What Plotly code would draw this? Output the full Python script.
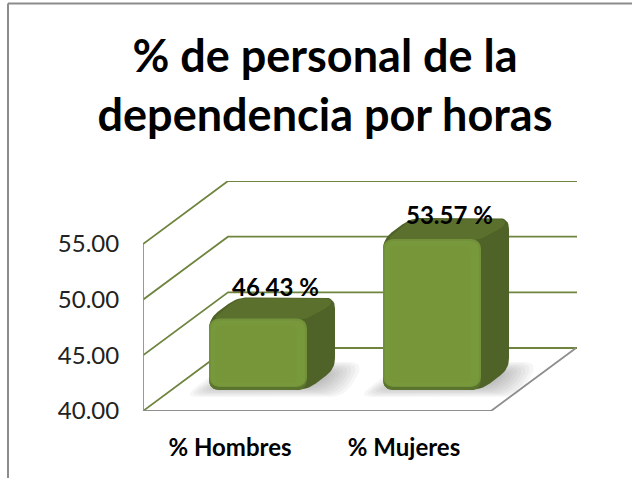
import plotly.graph_objects as go

categories = ["% Hombres", "% Mujeres"]
values = [46.43, 53.57]
value_labels = ["46.43 %", "53.57 %"]
label_lift = [32, 24]
y_ticks = [40, 45, 50, 55]
y_tick_labels = ["40.00", "45.00", "50.00", "55.00"]
title = "% de personal de la<br>dependencia por horas"

W, H = 632, 478
L, R, T, B = 143, 577, 181, 411
SY = (411 - 244) / 15          # px per value unit
SX = 174                       # px per category
WALL_DX, WALL_DY = 85, 63      # oblique offset of back wall
BAR_DX, BAR_DY = 28, 21        # bar plane offset from the front of the floor
SIDE_DX, SIDE_DY = 28, 21      # bar depth
BAR_W = 98 / SX
FONT = "Lato, Carlito, Calibri, sans-serif"

x0 = -0.5
x_range = [x0, x0 + (R - L) / SX]
y_range = [40, 40 + (B - T) / SY]
x_range2 = [x_range[0] - BAR_DX / SX, x_range[1] - BAR_DX / SX]
y_range2 = [y_range[0] - BAR_DY / SY, y_range[1] - BAR_DY / SY]


def rounded(points, r):
    """points in px-scaled plane -> smooth closed path"""
    out = []
    n = len(points)
    for k in range(n):
        p0, p1, p2 = points[k - 1], points[k], points[(k + 1) % n]
        def toward(a, b, d):
            dist = ((a[0] - b[0]) ** 2 + (a[1] - b[1]) ** 2) ** 0.5
            t = min(d / dist, 0.5)
            return (b[0] + (a[0] - b[0]) * t, b[1] + (a[1] - b[1]) * t)
        a, c = toward(p0, p1, r), toward(p2, p1, r)
        for s in range(9):
            t = s / 8
            out.append(((1 - t) ** 2 * a[0] + 2 * t * (1 - t) * p1[0] + t ** 2 * c[0],
                        (1 - t) ** 2 * a[1] + 2 * t * (1 - t) * p1[1] + t ** 2 * c[1]))
    out.append(out[0])
    return [p[0] / SX for p in out], [p[1] / SY for p in out]


def poly(points, r, color, axes="base", opacity=1):
    xs, ys = rounded(points, r)
    if axes == "base":
        xs = [a + BAR_DX / SX for a in xs]
        ys = [b + BAR_DY / SY for b in ys]
    return go.Scatter(x=xs, y=ys, mode="lines", fill="toself", fillcolor=color,
                      line=dict(width=0), opacity=opacity, hoverinfo="skip",
                      showlegend=False, xaxis="x" if axes == "base" else "x2",
                      yaxis="y" if axes == "base" else "y2")


def line(xs, ys, color, width):
    return go.Scatter(x=xs, y=ys, mode="lines", line=dict(color=color, width=width),
                      hoverinfo="skip", showlegend=False)


fig = go.Figure()
GRID = "#6f853f"
FLOOR = "#8e8e8e"
wx, wy = WALL_DX / SX, WALL_DY / SY
xL, xF = x_range[0], x_range[0] + 2

# back wall and side wall grid
for v in y_ticks:
    fig.add_trace(line([xL, xL + wx, x_range[1]], [v, v + wy, v + wy], GRID, 1.8))
# floor edge and front axis
fig.add_trace(line([xL, xL, xF, xF + wx], [55, 40, 40, 40 + wy], FLOOR, 1.8))

# floor shadows
for i, v in enumerate(values):
    lx = (i - BAR_W / 2) * SX
    rx = (i + BAR_W / 2) * SX
    by = 40 * SY
    for inset in (0, 3, 6, 9, 12, 15, 18, 21, 24):
        pts = [(lx - 26 + inset * 1.3, by - 7 + inset * 0.45),
               (rx + 38 - inset * 1.3, by - 7 + inset * 0.45),
               (rx + 58 - inset * 1.3, by + 28 - inset * 0.45),
               (lx + 20 + inset * 1.3, by + 28 - inset * 0.45)]
        fig.add_trace(poly(pts, 16, "#777777", opacity=0.065))

# bar bodies behind the front face
for i, v in enumerate(values):
    lx, rx = (i - BAR_W / 2) * SX, (i + BAR_W / 2) * SX
    by, ty = 40 * SY, v * SY
    sil = [(lx, by), (lx, ty), (lx + SIDE_DX, ty + SIDE_DY), (rx + SIDE_DX, ty + SIDE_DY),
           (rx + SIDE_DX, by + SIDE_DY), (rx, by)]
    fig.add_trace(poly(sil, 11, "#4f6227"))
    top = [(lx + 3, ty - 1), (lx + SIDE_DX + 1, ty + SIDE_DY - 1), (rx + SIDE_DX - 4, ty + SIDE_DY - 1),
           (rx + SIDE_DX - 4, ty + SIDE_DY - 8), (rx - 1, ty - 1)]
    fig.add_trace(poly(top, 8, "#5b702d"))
    outer = [(lx, by), (lx, ty), (rx, ty), (rx, by)]
    fig.add_trace(poly(outer, 11, "#5a742d"))

# front face bars, on axes shifted to the bars' plane
fig.add_trace(go.Bar(x=[0, 1], y=[v - (40 + 3 / SY) for v in values], base=40 + 3 / SY,
                     width=BAR_W, marker=dict(color="#72913a", cornerradius=10, line=dict(width=0)),
                     xaxis="x2", yaxis="y2", hoverinfo="skip", showlegend=False))
for i, v in enumerate(values):
    lx, rx = (i - BAR_W / 2) * SX, (i + BAR_W / 2) * SX
    by, ty = 40 * SY, v * SY
    fig.add_trace(poly([(lx + 2, by + 4), (lx + 2, ty - 2), (rx - 2, ty - 2), (rx - 2, by + 4)], 9,
                       "#78983c", axes="over"))
    fig.add_trace(poly([(lx + 6, by + 7), (lx + 6, ty - 7), (rx - 10, ty - 7), (rx - 10, by + 7)], 8,
                       "#779639", axes="over"))
    fig.add_annotation(x=i, y=v, xref="x2", yref="y2", text=f"<b>{value_labels[i]}</b>", showarrow=False,
                       xshift=17, yshift=label_lift[i], font=dict(family=FONT, size=24, color="black"))

# frame of the chart area
def px(x): return (x - L) / (R - L)
def py(y): return (B - y) / (B - T)
fig.add_shape(type="line", xref="paper", yref="paper", x0=px(8), x1=px(632), y0=py(3.5), y1=py(3.5),
              line=dict(color="#8c8c8c", width=2))
fig.add_shape(type="line", xref="paper", yref="paper", x0=px(8), x1=px(8), y0=py(3.5), y1=py(478),
              line=dict(color="#8c8c8c", width=2))

fig.update_layout(
    width=W, height=H, autosize=False, paper_bgcolor="white", plot_bgcolor="white",
    margin=dict(l=L, r=W - R, t=T, b=H - B, pad=0),
    showlegend=False, barmode="overlay",
    title=dict(text=f"<b>{title}</b>", x=325 / W, xanchor="center", y=1 - 72 / H, yanchor="top", yref="container",
               font=dict(family=FONT, size=45, color="black")),
    xaxis=dict(range=x_range, tickmode="array", tickvals=[0, 1], ticktext=[f"<b>{c}</b>" for c in categories],
               showgrid=False, zeroline=False, showline=False, ticks="outside", ticklen=15,
               tickcolor="rgba(0,0,0,0)", tickfont=dict(family=FONT, size=24, color="black")),
    yaxis=dict(range=y_range, tickmode="array", tickvals=y_ticks, ticktext=y_tick_labels,
               showgrid=False, zeroline=False, showline=False, ticks="outside", ticklen=18,
               tickcolor="rgba(0,0,0,0)", tickfont=dict(family=FONT, size=24, color="#222222")),
    xaxis2=dict(range=x_range2, overlaying="x", visible=False),
    yaxis2=dict(range=y_range2, overlaying="y", visible=False),
)
fig.write_html("out.html", config={"displayModeBar": False},
               post_script="document.body.style.margin='0';document.documentElement.style.overflow='hidden';")
